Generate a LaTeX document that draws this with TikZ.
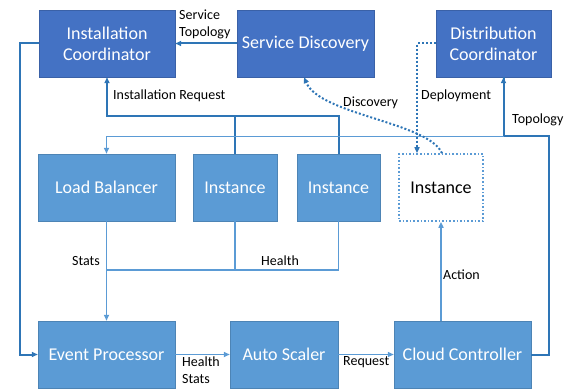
\documentclass[tikz,border=0pt]{standalone}
\usepackage{fontspec}
\setmainfont{Carlito}
\usepackage{xcolor}
\usepackage{tikz}
\usetikzlibrary{arrows.meta}

\definecolor{boxdark}{HTML}{4472C4}
\definecolor{boxlight}{HTML}{5B9BD5}
\definecolor{linedark}{HTML}{2E75B6}

\begin{document}
\begin{tikzpicture}[x=1pt, y=-1pt, >={Triangle[length=6pt,width=5pt]},
  topbox/.style={rectangle, fill=boxdark, draw=boxdark!85!black, line width=0.4pt, text=white, align=center, minimum height=67pt, inner sep=0pt, font=\fontsize{18}{21}\selectfont},
  midbox/.style={topbox, fill=boxlight, draw=boxlight!85!black},
  newbox/.style={rectangle, draw=boxlight, dotted, line width=1.6pt, text=black, minimum width=84pt, minimum height=67pt, inner sep=0pt, font=\fontsize{18}{21}\selectfont},
  darkline/.style={draw=linedark, line width=2pt},
  lightline/.style={draw=boxlight, line width=1.6pt},
  dotline/.style={draw=linedark, dotted, line width=2pt},
  lbl/.style={inner sep=0pt, anchor=west, align=left, font=\fontsize{14}{17}\selectfont}]
  \useasboundingbox (0,0) rectangle (570,390);
  % top row
  \node[topbox, minimum width=136pt] (ic) at (107,43.5) {Installation\\Coordinator};
  \node[topbox, minimum width=137pt] (sd) at (305.5,43.5) {Service Discovery};
  \node[topbox, minimum width=115pt] (dc) at (493.5,43.5) {Distribution\\Coordinator};
  % middle row
  \node[midbox, minimum width=137pt] (lb) at (106.5,187.5) {Load Balancer};
  \node[midbox, minimum width=84pt] (ia) at (235,187.5) {Instance};
  \node[midbox, minimum width=83pt] (ib) at (338.5,187.5) {Instance};
  \node[newbox] (ic2) at (441,187.5) {Instance};
  % bottom row
  \node[midbox, minimum width=137pt] (ep) at (106.5,354.5) {Event Processor};
  \node[midbox, minimum width=108pt] (as) at (284,354.5) {Auto Scaler};
  \node[midbox, minimum width=137pt] (cc) at (462.5,354.5) {Cloud Controller};

  % connectors
  \draw[darkline,->] (sd.west) -- (ic.east);
  \draw[darkline,->] (ic.west) -- ++(-19,0) |- (ep.west);
  \draw[darkline,->] (ib.north) -- ++(0,-38) -| (ic.south);
  \draw[darkline] (ia.north) -- ++(0,-38);
  \draw[darkline] (cc.east) -- ++(18,0) -- ++(0,-218) coordinate (topo) -| ([xshift=10pt]dc.south);
  \draw[darkline,->] ([xshift=10pt]dc.south |- topo) -- ([xshift=10pt]dc.south);
  \draw[lightline,->] ([xshift=10pt]dc.south |- topo) -| (lb.north);
  \draw[lightline,->] (lb.south) -- (ep.north);
  \draw[lightline] (ib.south) -- ++(0,49) coordinate (hb) -- (hb -| lb.south);
  \draw[lightline] (ia.south) -- (ia.south |- hb);
  \draw[lightline,->] (ep.east) -- (as.west);
  \draw[lightline,->] (as.east) -- (cc.west);
  \draw[lightline,->] (ic2.south |- cc.north) -- (ic2.south);
  \draw[dotline,->] (dc.west) -| ([xshift=-24pt]ic2.north);
  \draw[dotline,->] ([xshift=1pt]ic2.north) .. controls (428,122) and (320,115) .. ([xshift=-1.5pt]sd.south);

  % labels
  \node[lbl] (l1) at (179,24) {Service\\Topology};
  \node[lbl] (l2) at (113,96) {Installation Request};
  \node[lbl] (l3) at (343,103) {Discovery};
  \node[lbl] (l4) at (421,96) {Deployment};
  \node[lbl] (l5) at (512,120) {Topology};
  \node[lbl] (l6) at (72,261) {Stats};
  \node[lbl] (l7) at (261,261) {Health};
  \node[lbl] (l8) at (443,275) {Action};
  \node[lbl] (l9) at (182,370) {Health\\Stats};
  \node[lbl] (l10) at (343,362) {Request};
\end{tikzpicture}
\end{document}
